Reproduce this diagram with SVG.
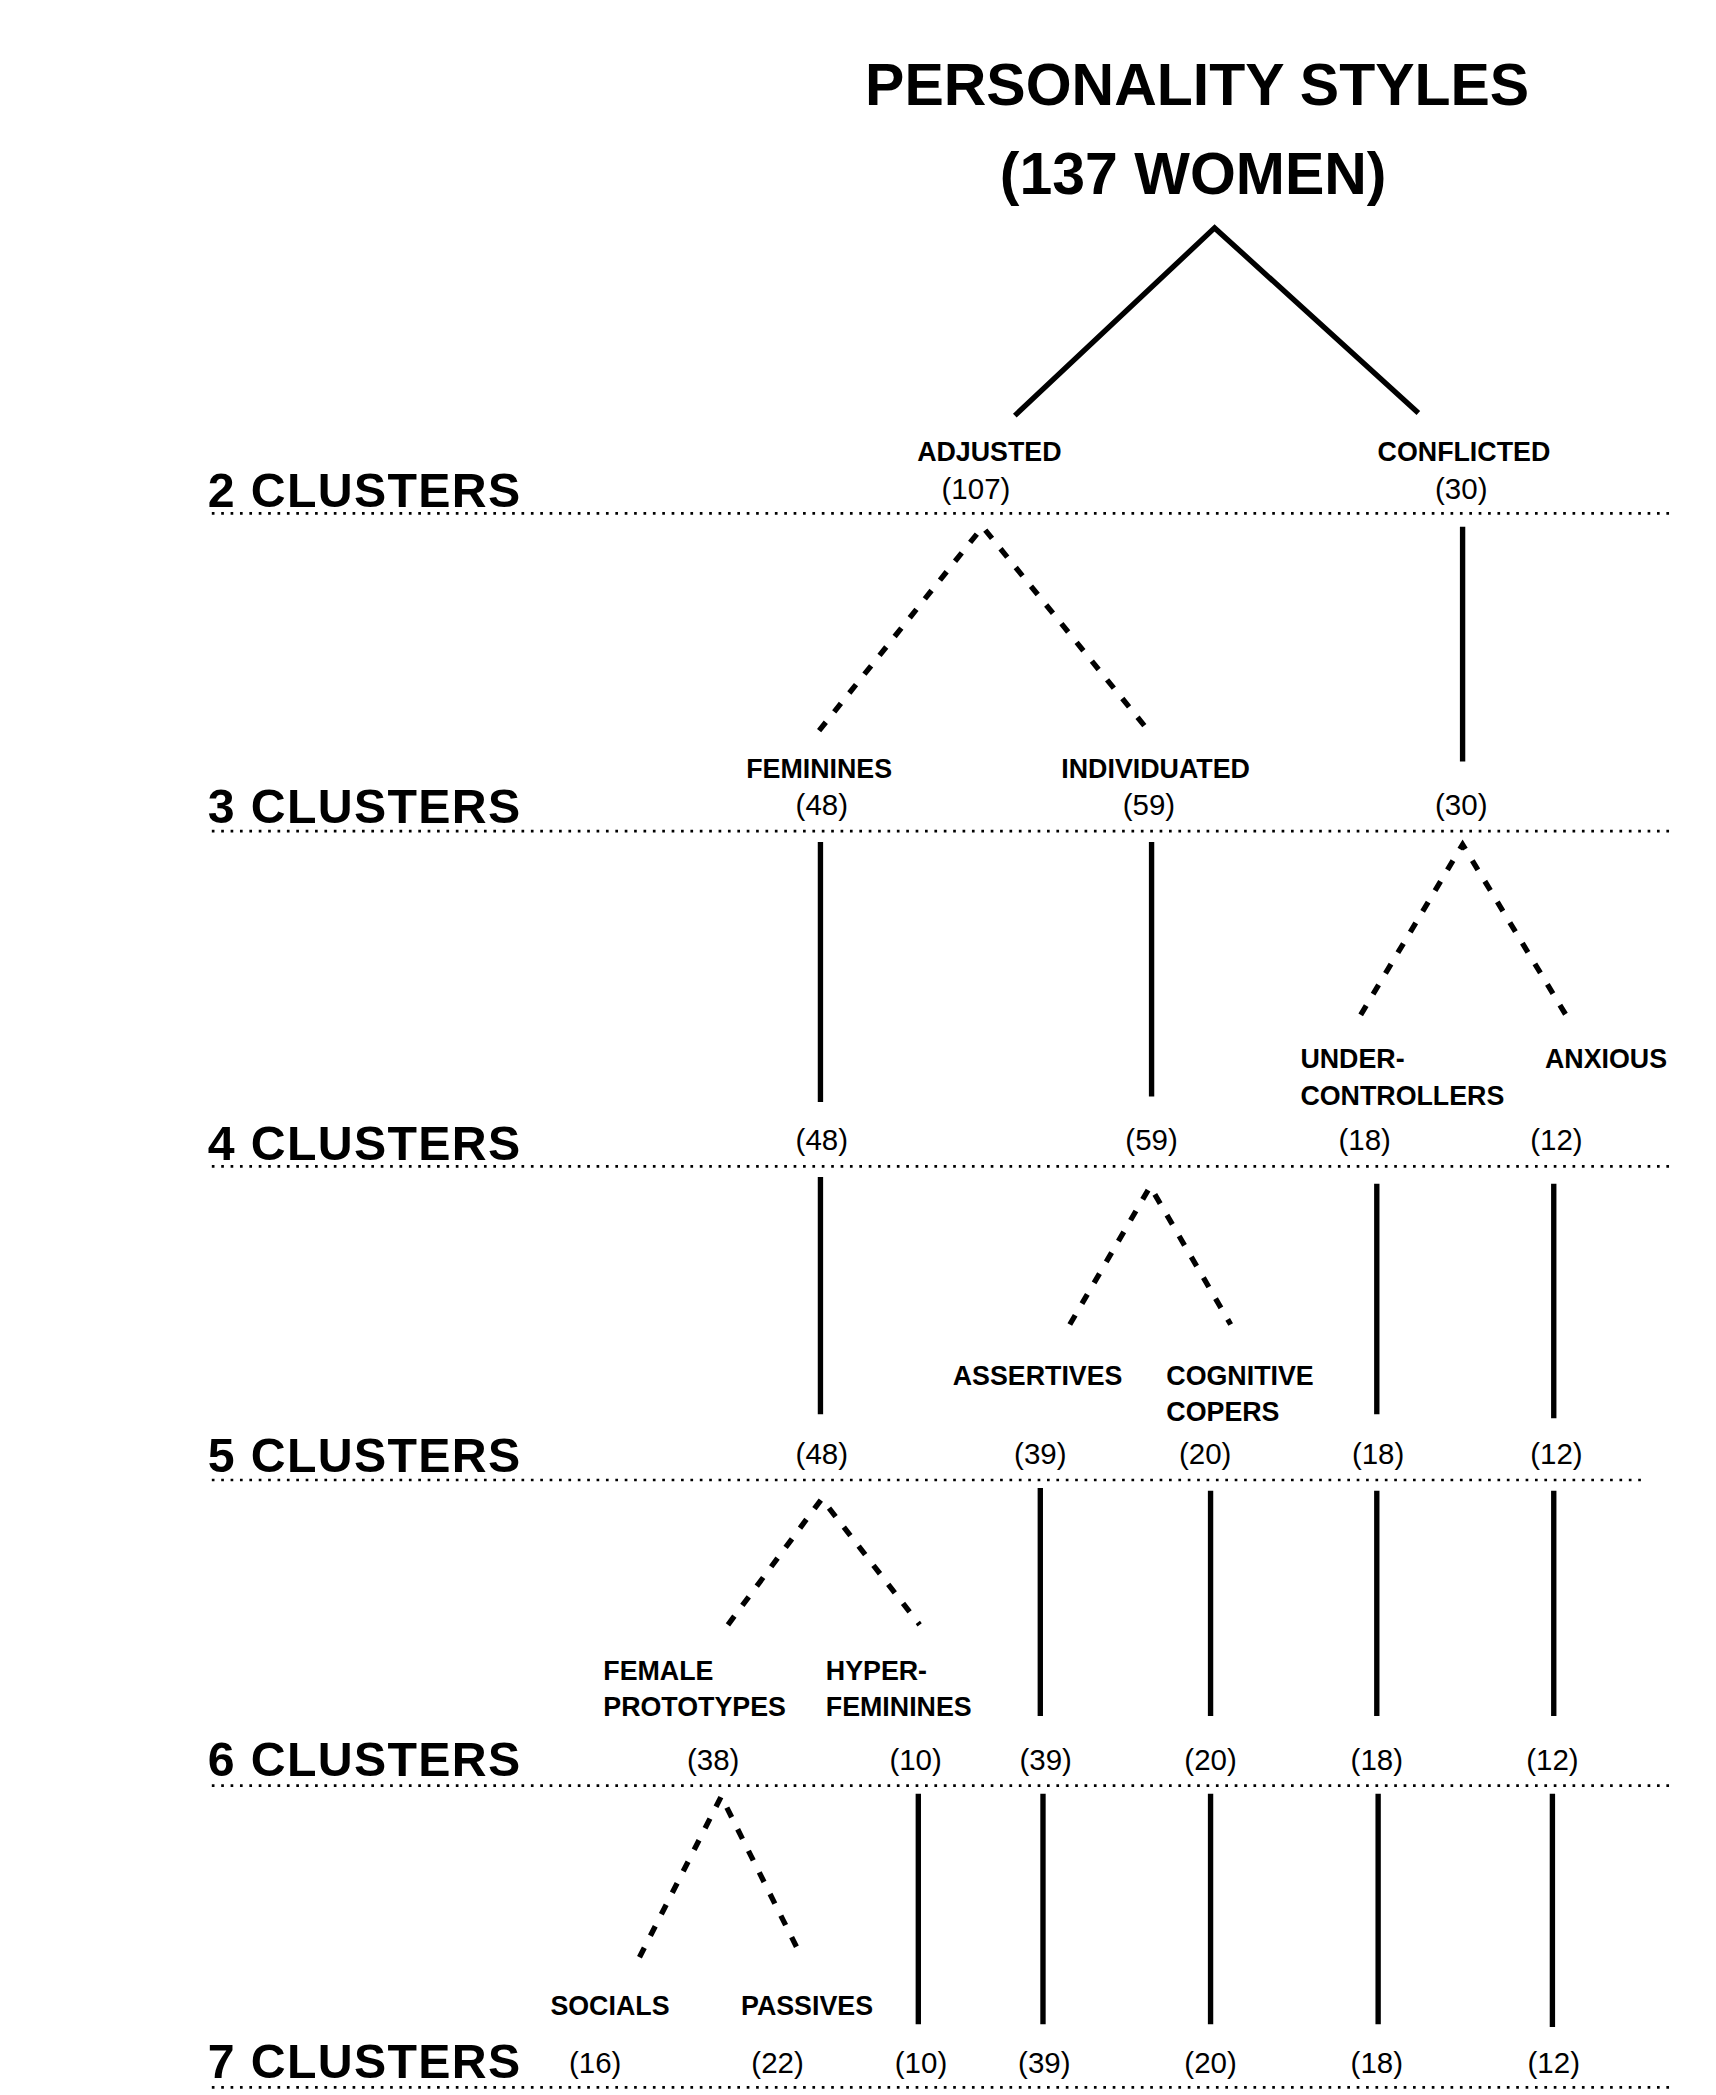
<svg xmlns="http://www.w3.org/2000/svg" width="1716" height="2095" viewBox="0 0 1716 2095">
<style>
.t{font-family:"Liberation Sans",Arial,sans-serif;font-weight:bold;font-size:44px;text-anchor:middle}
.c{font-family:"Liberation Sans",Arial,sans-serif;font-weight:bold;font-size:36px;letter-spacing:1px}
.n{font-family:"Liberation Sans",Arial,sans-serif;font-weight:bold;font-size:20px}
.m{font-family:"Liberation Sans",Arial,sans-serif;font-size:22px;text-anchor:middle}
.s{stroke:#000;stroke-width:4;fill:none}
.d{stroke:#000;stroke-width:4;fill:none;stroke-dasharray:8 10}
.r{stroke:#000;stroke-width:2;fill:none;stroke-dasharray:2 5}
</style>
<rect width="1716" height="2095" fill="#fff"/>
<g transform="scale(1.3406)">
<g id="title"><text class="t" x="893" y="78">PERSONALITY STYLES</text><text class="t" x="890" y="145">(137 WOMEN)</text></g>
<g id="rows">
<text class="c" x="155" y="378">2  CLUSTERS</text><line class="r" x1="158" y1="383" x2="1245" y2="383"/>
<text class="c" x="155" y="614">3  CLUSTERS</text><line class="r" x1="158" y1="620" x2="1245" y2="620"/>
<text class="c" x="155" y="865">4  CLUSTERS</text><line class="r" x1="158" y1="870" x2="1245" y2="870"/>
<text class="c" x="155" y="1098">5  CLUSTERS</text><line class="r" x1="158" y1="1104" x2="1225" y2="1104"/>
<text class="c" x="155" y="1325">6  CLUSTERS</text><line class="r" x1="158" y1="1332" x2="1250" y2="1332"/>
<text class="c" x="155" y="1550">7 CLUSTERS</text><line class="r" x1="158" y1="1557" x2="1250" y2="1557"/>
</g>
<g id="connectors">
<path class="s" d="M757 310L906 170L1058 308"/>
<path class="d" d="M611 545L733 393L855 543"/>
<line class="s" x1="1091" y1="393" x2="1091" y2="568"/>
<line class="s" x1="612" y1="628" x2="612" y2="822"/>
<line class="s" x1="859" y1="628" x2="859" y2="818"/>
<path class="d" d="M1015 757L1091 630L1168 757"/>
<line class="s" x1="612" y1="878" x2="612" y2="1055"/>
<path class="d" d="M798 988L858 885L918 988"/>
<line class="s" x1="1027" y1="883" x2="1027" y2="1055"/>
<line class="s" x1="1159" y1="883" x2="1159" y2="1058"/>
<path class="d" d="M543 1212L613 1118L686 1212"/>
<line class="s" x1="776" y1="1110" x2="776" y2="1280"/>
<line class="s" x1="903" y1="1112" x2="903" y2="1280"/>
<line class="s" x1="1027" y1="1112" x2="1027" y2="1280"/>
<line class="s" x1="1159" y1="1112" x2="1159" y2="1280"/>
<path class="d" d="M477 1460L538 1340L598 1460"/>
<line class="s" x1="685" y1="1338" x2="685" y2="1510"/>
<line class="s" x1="778" y1="1338" x2="778" y2="1510"/>
<line class="s" x1="903" y1="1338" x2="903" y2="1510"/>
<line class="s" x1="1028" y1="1338" x2="1028" y2="1510"/>
<line class="s" x1="1158" y1="1338" x2="1158" y2="1512"/>
</g>
<g id="n2"><text class="n" x="738" y="344" text-anchor="middle">ADJUSTED</text><text class="m" x="728" y="372">(107)</text>
<text class="n" x="1092" y="344" text-anchor="middle">CONFLICTED</text><text class="m" x="1090" y="372">(30)</text></g>
<g id="n3"><text class="n" x="611" y="580" text-anchor="middle">FEMININES</text><text class="m" x="613" y="608">(48)</text>
<text class="n" x="862" y="580" text-anchor="middle">INDIVIDUATED</text><text class="m" x="857" y="608">(59)</text>
<text class="m" x="1090" y="608">(30)</text></g>
<g id="n4"><text class="n" x="970" y="797">UNDER-</text><text class="n" x="970" y="824">CONTROLLERS</text>
<text class="n" x="1198" y="797" text-anchor="middle">ANXIOUS</text>
<text class="m" x="613" y="858">(48)</text><text class="m" x="859" y="858">(59)</text><text class="m" x="1018" y="858">(18)</text><text class="m" x="1161" y="858">(12)</text></g>
<g id="n5"><text class="n" x="774" y="1033" text-anchor="middle">ASSERTIVES</text><text class="n" x="870" y="1033">COGNITIVE</text><text class="n" x="870" y="1060">COPERS</text>
<text class="m" x="613" y="1092">(48)</text><text class="m" x="776" y="1092">(39)</text><text class="m" x="899" y="1092">(20)</text><text class="m" x="1028" y="1092">(18)</text><text class="m" x="1161" y="1092">(12)</text></g>
<g id="n6"><text class="n" x="450" y="1253">FEMALE</text><text class="n" x="450" y="1280">PROTOTYPES</text><text class="n" x="616" y="1253">HYPER-</text><text class="n" x="616" y="1280">FEMININES</text>
<text class="m" x="532" y="1320">(38)</text><text class="m" x="683" y="1320">(10)</text><text class="m" x="780" y="1320">(39)</text><text class="m" x="903" y="1320">(20)</text><text class="m" x="1027" y="1320">(18)</text><text class="m" x="1158" y="1320">(12)</text></g>
<g id="n7"><text class="n" x="455" y="1503" text-anchor="middle">SOCIALS</text><text class="n" x="602" y="1503" text-anchor="middle">PASSIVES</text>
<text class="m" x="444" y="1546">(16)</text><text class="m" x="580" y="1546">(22)</text><text class="m" x="687" y="1546">(10)</text><text class="m" x="779" y="1546">(39)</text><text class="m" x="903" y="1546">(20)</text><text class="m" x="1027" y="1546">(18)</text><text class="m" x="1159" y="1546">(12)</text></g>
</g>
</svg>
